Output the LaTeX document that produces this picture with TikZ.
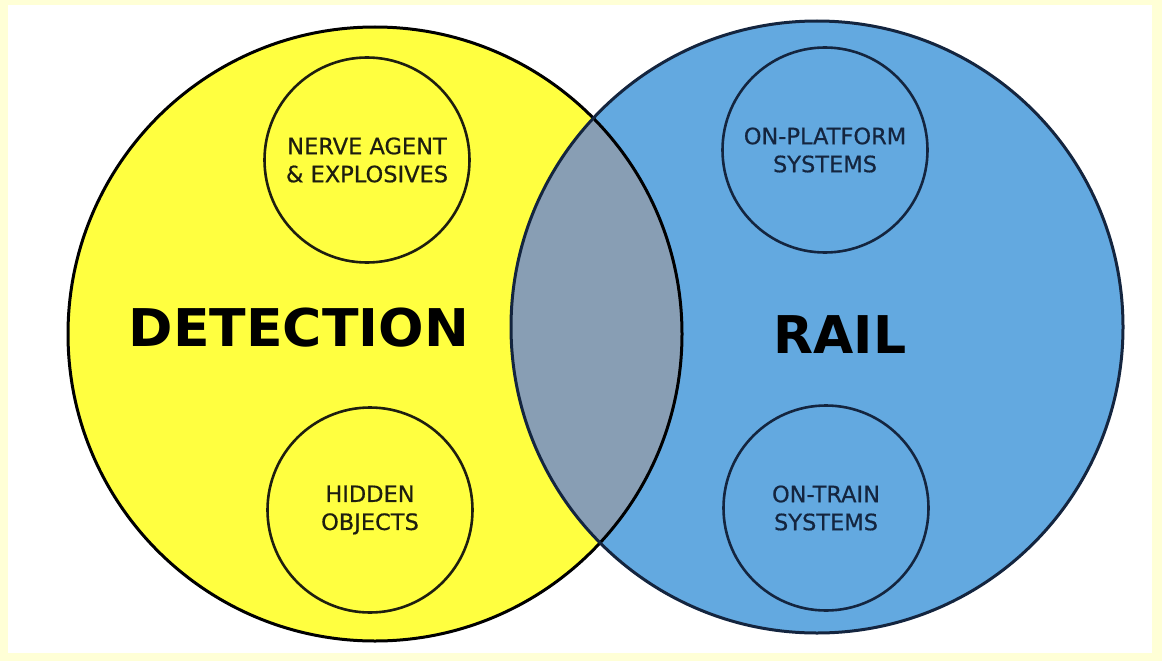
\documentclass[tikz,border=0pt]{standalone}
\usepackage{fontspec}
\setmainfont{DejaVu Sans}
\newfontfamily\subsetfont[FakeBold=0.6]{DejaVu Sans}
\definecolor{pageframe}{HTML}{FFFFD6}
\definecolor{detyellow}{HTML}{FFFF40}
\definecolor{railblue}{HTML}{63A9E0}
\definecolor{overlap}{HTML}{889EB4}
\definecolor{navy}{HTML}{14253F}
\definecolor{darkink}{HTML}{1E1E10}
\begin{document}
\begin{tikzpicture}[x=1pt,y=-1pt,
  bigring/.style={line width=3pt},
  subring/.style={circle,minimum size=205pt,inner sep=0pt,line width=2.6pt,
    align=center,font=\subsetfont\fontsize{22.5}{28}\selectfont},
  title/.style={font=\bfseries\fontsize{52}{60}\selectfont,text=black}]
  % page frame and white sheet
  \fill[pageframe] (0,0) rectangle (1162,661);
  \fill[white] (8,5) rectangle (1152,653);
  \useasboundingbox (0,0) rectangle (1162,661);
  % the two main sets
  \coordinate (cd) at (375,334);
  \coordinate (cr) at (817,327);
  \fill[detyellow] (cd) circle (307);
  \fill[railblue] (cr) circle (306);
  \begin{scope}
    \clip (cd) circle (307);
    \fill[overlap] (cr) circle (306);
  \end{scope}
  \draw[bigring,black] (cd) circle (307);
  \draw[bigring,navy] (cr) circle (306);
  % sub-areas
  \node[subring,draw=darkink,text=darkink] (nerve) at (367,160) {NERVE AGENT\\\& EXPLOSIVES};
  \node[subring,draw=darkink,text=darkink] (hidden) at (370,510) {HIDDEN\\OBJECTS};
  \node[subring,draw=navy,text=navy] (platform) at (825,150) {ON-PLATFORM\\SYSTEMS};
  \node[subring,draw=navy,text=navy] (train) at (826,508) {ON-TRAIN\\SYSTEMS};
  % set titles
  \node[title,xscale=1.03] (detection) at (299,328) {DETECTION};
  \node[title] (rail) at (840,335) {RAIL};
\end{tikzpicture}
\end{document}
